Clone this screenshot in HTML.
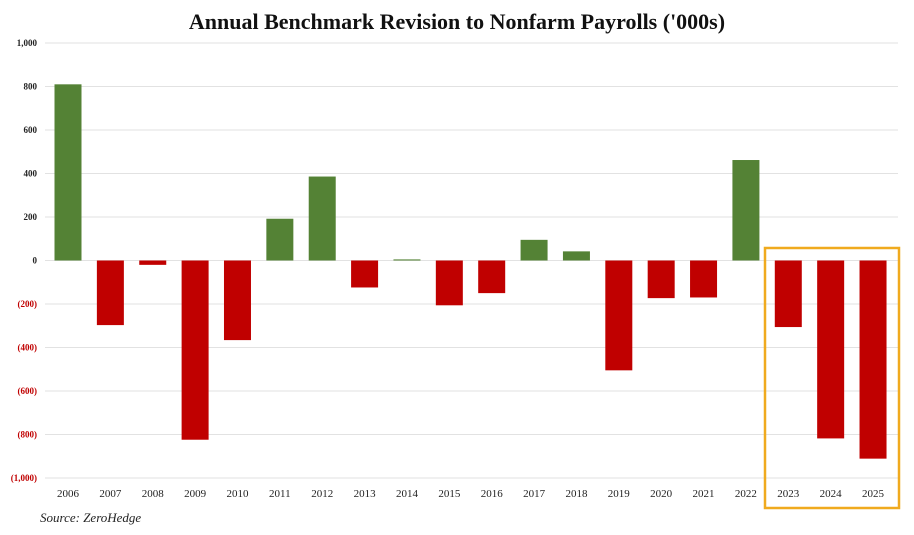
<!DOCTYPE html>
<html><head><meta charset="utf-8"><style>
body{margin:0;background:#fff;}
svg{display:block;font-family:"Liberation Serif",serif;}
</style></head><body>
<svg width="914" height="535" viewBox="0 0 914 535">
<rect x="0" y="0" width="914" height="535" fill="#fff"/>
<text x="457" y="29" text-anchor="middle" font-size="22" font-weight="bold" fill="#111">Annual Benchmark Revision to Nonfarm Payrolls ('000s)</text>
<g id="grid"></g>
<g id="bars"></g>
<g id="xlabels"></g>
<rect x="765" y="248" width="134" height="260" fill="none" stroke="#f0aa1e" stroke-width="2.5"/>
<text x="40" y="522" font-size="13" font-style="italic" fill="#222">Source: ZeroHedge</text>
</svg>
<script>
const categories=["2006","2007","2008","2009","2010","2011","2012","2013","2014","2015","2016","2017","2018","2019","2020","2021","2022","2023","2024","2025"];
const values=[810,-297,-20,-824,-366,192,386,-124,5,-206,-150,95,42,-505,-173,-170,462,-306,-818,-911];
const ticks=[1000,800,600,400,200,0,-200,-400,-600,-800,-1000];
const tickLabels=["1,000","800","600","400","200","0","(200)","(400)","(600)","(800)","(1,000)"];
const NS="http://www.w3.org/2000/svg";
function y(v){return 260.5-v*0.2175;}
function x(i){return 68+i*42.37;}
function mk(t,a,p){const e=document.createElementNS(NS,t);for(const k in a)e.setAttribute(k,a[k]);p.appendChild(e);return e;}
const grid=document.getElementById('grid'),bars=document.getElementById('bars'),xl=document.getElementById('xlabels');
ticks.forEach((t,i)=>{
 const l=mk('line',{x1:45,x2:898,y1:y(t),y2:y(t),stroke:'#e2e2e2','stroke-width':1},grid);
 
 
 const tx=mk('text',{x:37,y:y(t)+3,'text-anchor':'end','font-size':9,'font-weight':'bold',fill:t<0?'#c00000':'#222'},grid);
 tx.textContent=tickLabels[i];
 
 
});
values.forEach((v,i)=>{
 const top=Math.min(y(v),y(0)),h=Math.abs(y(v)-y(0));
 const r=mk('rect',{x:x(i)-13.5,y:top,width:27,height:Math.max(h,1),fill:v>=0?'#548235':'#c00000'},bars);
 
 
 const t=mk('text',{x:x(i),y:497,'text-anchor':'middle','font-size':11,fill:'#222'},xl);
 t.textContent=categories[i];
 
 
});
</script>
</body></html>
